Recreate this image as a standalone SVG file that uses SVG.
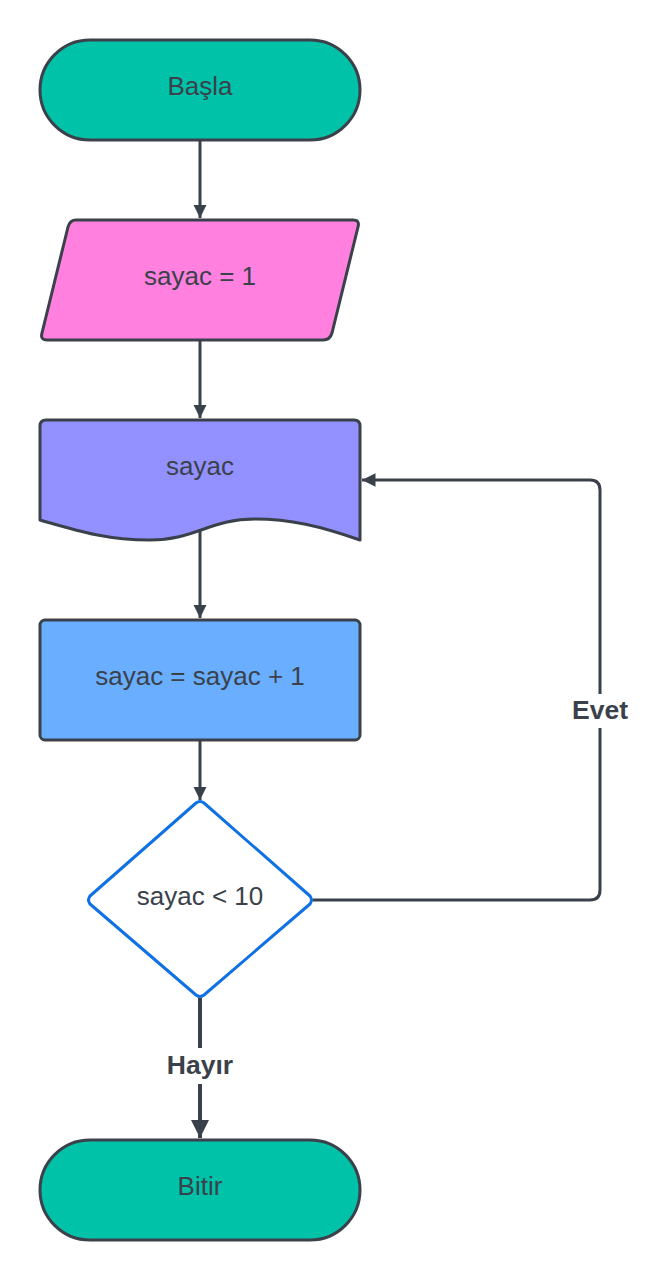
<svg xmlns="http://www.w3.org/2000/svg" width="668" height="1280" viewBox="0 0 668 1280">
<defs>
<marker id="ah" viewBox="0 0 10 10" refX="10" refY="5" markerWidth="4.5" markerHeight="4.5" orient="auto" markerUnits="strokeWidth"><path d="M0,0 L10,5 L0,10 z" fill="#3a414a"/></marker>
<style>
.n{stroke:#3a414a;stroke-width:3;stroke-linejoin:round}
.t{font-family:"Liberation Sans",Arial,sans-serif;font-size:26px;fill:#3a414a;text-anchor:middle}
.b{font-family:"Liberation Sans",Arial,sans-serif;font-size:26.5px;font-weight:bold;fill:#3a414a;text-anchor:middle}
.c{fill:none;stroke:#3a414a;stroke-width:3}
</style>
</defs>
<rect width="668" height="1280" fill="#ffffff"/>
<g id="connectors">
<line class="c" x1="200" y1="140" x2="200" y2="218" marker-end="url(#ah)"/>
<line class="c" x1="200" y1="340" x2="200" y2="418" marker-end="url(#ah)"/>
<line class="c" x1="200" y1="530" x2="200" y2="618" marker-end="url(#ah)"/>
<line class="c" x1="200" y1="740" x2="200" y2="800" marker-end="url(#ah)"/>
<path class="c" d="M200,998 V1048 M200,1084 V1138" style="stroke-width:4" marker-end="url(#ah)"/>
<path class="c" d="M313,900 H590 Q600,900 600,890 V728 M600,694 V490 Q600,480 590,480 H362" marker-end="url(#ah)"/>
<text class="b" x="200" y="1074">Hayır</text>
<text class="b" x="600" y="719">Evet</text>
</g>
<g id="basla">
<rect class="n" x="40" y="40" width="320" height="100" rx="50" fill="#00c2a8"/>
<text class="t" x="200" y="95">Başla</text>
</g>
<g id="sayac1">
<path class="n" d="M76,220 H353 Q360,220 358,227 L332,333 Q330,340 323,340 H47 Q40,340 42,333 L68,227 Q70,220 76,220 Z" fill="#ff80df"/>
<text class="t" x="200" y="285">sayac = 1</text>
</g>
<g id="cikti">
<path class="n" d="M46,420 H354 Q360,420 360,426 V540 C320,526 290,519 255,519 C210,519 195,540 150,540 C105,540 75,530 40,520 V426 Q40,420 46,420 Z" fill="#9391ff"/>
<text class="t" x="200" y="475">sayac</text>
</g>
<g id="artir">
<rect class="n" x="40" y="620" width="320" height="120" rx="5" fill="#6aaeff"/>
<text class="t" x="200" y="685">sayac = sayac + 1</text>
</g>
<g id="kosul">
<path d="M196,803 Q200,800 204,803 L310,896 Q313,900 310,904 L204,995 Q200,998 196,995 L90,904 Q87,900 90,896 Z" fill="#ffffff" stroke="#1071e5" stroke-width="3" stroke-linejoin="round"/>
<text class="t" x="200" y="905">sayac &lt; 10</text>
</g>
<g id="bitir">
<rect class="n" x="40" y="1140" width="320" height="100" rx="50" fill="#00c2a8"/>
<text class="t" x="200" y="1195">Bitir</text>
</g>
</svg>
